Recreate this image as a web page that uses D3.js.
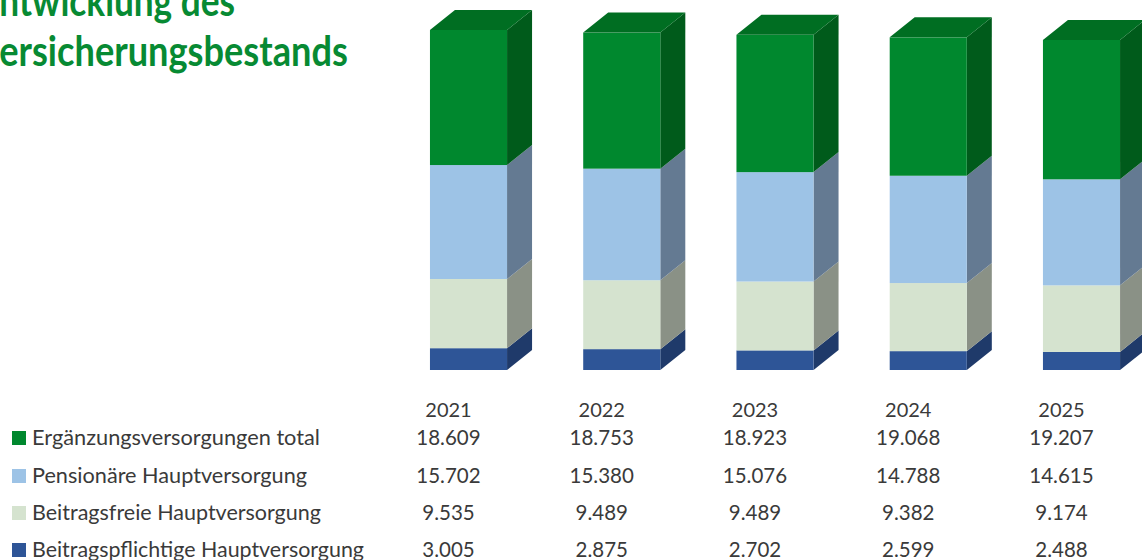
<!DOCTYPE html>
<html>
<head>
<meta charset="utf-8">
<script src="https://cdn.jsdelivr.net/npm/d3@7"></script>
<style>
  html, body { margin: 0; padding: 0; background: #ffffff; overflow: hidden; }
  svg { display: block; }
</style>
</head>
<body>
<svg id="chart" width="1142" height="560"></svg>
<script>
// ---- data ----
const years = ["2021", "2022", "2023", "2024", "2025"];
const seriesNames = [
  "Ergänzungsversorgungen total",
  "Pensionäre Hauptversorgung",
  "Beitragsfreie Hauptversorgung",
  "Beitragspflichtige Hauptversorgung"
];
const ergaenzung = [18609, 18753, 18923, 19068, 19207];
const pensionaere = [15702, 15380, 15076, 14788, 14615];
const beitragsfrei = [9535, 9489, 9489, 9382, 9174];
const beitragspflichtig = [3005, 2875, 2702, 2599, 2488];
const titleLines = ["Entwicklung des", "Versicherungsbestands"];

// ---- styles ----
const frontColors = ["#00882E", "#9DC3E6", "#D5E3CF", "#2E5597"];
const sideColors  = ["#005B1B", "#647A92", "#8A9186", "#1F3A6A"];
const topColor = "#006E22";
const titleColor = "#078A33";
const textColor = "#3A3A3A";

const seriesValues = [ergaenzung, pensionaere, beitragsfrei, beitragspflichtig];

const rows = years.map((y, i) => {
  const r = { year: y };
  seriesNames.forEach((n, k) => r[n] = seriesValues[k][i]);
  return r;
});
const stackKeys = seriesNames.slice().reverse(); // bottom first
const stacked = d3.stack().keys(stackKeys)(rows);

const svg = d3.select("#chart");

const x = d3.scaleBand().domain(years).range([353.8, 1196.2]).padding(0.497);
const y = d3.scaleLinear().domain([0, 50000]).range([370, 7.15]);
const dx = 25, dy = -20;

const gBars = svg.append("g");
years.forEach((yr, i) => {
  const g = gBars.append("g");
  const x0 = x(yr), x1 = x0 + x.bandwidth();
  stacked.forEach((layer) => {
    const k = seriesNames.indexOf(layer.key);
    const d = layer[i];
    const yb = y(d[0]), yt = y(d[1]);
    g.append("path")
      .attr("d", `M${x1},${yt}L${x1 + dx},${yt + dy}L${x1 + dx},${yb + dy}L${x1},${yb}Z`)
      .attr("fill", sideColors[k]);
    g.append("rect")
      .attr("x", x0).attr("y", yt)
      .attr("width", x.bandwidth()).attr("height", yb - yt)
      .attr("fill", frontColors[k]);
  });
  const topLayer = stacked[stacked.length - 1][i];
  const yt = y(topLayer[1]);
  g.append("path")
    .attr("d", `M${x0},${yt}L${x0 + dx},${yt + dy}L${x1 + dx},${yt + dy}L${x1},${yt}Z`)
    .attr("fill", topColor);
});

// ---- data table ----
const fmt = d3.formatLocale({ decimal: ",", thousands: ".", grouping: [3], currency: ["", " €"] }).format(",d");
const colX = yr => x(yr) + x.bandwidth() / 2 - 20;
const yearBaseline = 417;
const rowBaselines = [445, 483, 520, 557];
const fontFam = "Lato, 'Open Sans', sans-serif";
const legendWidths = [288, 275, 289, 332];

svg.append("g").selectAll("text").data(years).join("text")
  .attr("x", d => colX(d)).attr("y", yearBaseline)
  .attr("text-anchor", "middle")
  .attr("font-family", fontFam).attr("font-size", 20)
  .attr("fill", textColor)
  .text(d => d);

seriesNames.forEach((name, k) => {
  const g = svg.append("g");
  g.append("rect")
    .attr("x", 12).attr("y", rowBaselines[k] - 14)
    .attr("width", 14).attr("height", 14)
    .attr("fill", frontColors[k]);
  g.append("text")
    .attr("x", 32).attr("y", rowBaselines[k])
    .attr("font-family", fontFam).attr("font-size", 21)
    .attr("textLength", legendWidths[k]).attr("lengthAdjust", "spacingAndGlyphs")
    .attr("fill", textColor)
    .text(name);
  g.selectAll("text.v").data(seriesValues[k]).join("text")
    .attr("class", "v")
    .attr("x", (d, i) => colX(years[i])).attr("y", rowBaselines[k])
    .attr("text-anchor", "middle")
    .attr("font-family", fontFam).attr("font-size", 20.5)
    .attr("fill", textColor)
    .text(d => fmt(d));
});

// ---- title (clipped at left edge, as in the source) ----
const titleBaselines = [16, 66];
const visibleWidths = [236, 349];
const titleSize = 42;
titleLines.forEach((t, i) => {
  const el = svg.append("text")
    .attr("y", titleBaselines[i])
    .attr("font-family", fontFam).attr("font-weight", 700)
    .attr("font-size", titleSize)
    .style("font-kerning", "none")
    .attr("fill", titleColor)
    .text(t);
  const node = el.node();
  const first = node.getSubStringLength(0, 1);
  const rest = node.getSubStringLength(1, t.length - 1);
  const sx = visibleWidths[i] / rest;
  el.attr("x", -first - 1).attr("transform", `scale(${sx},1)`);
});
</script>
</body>
</html>
